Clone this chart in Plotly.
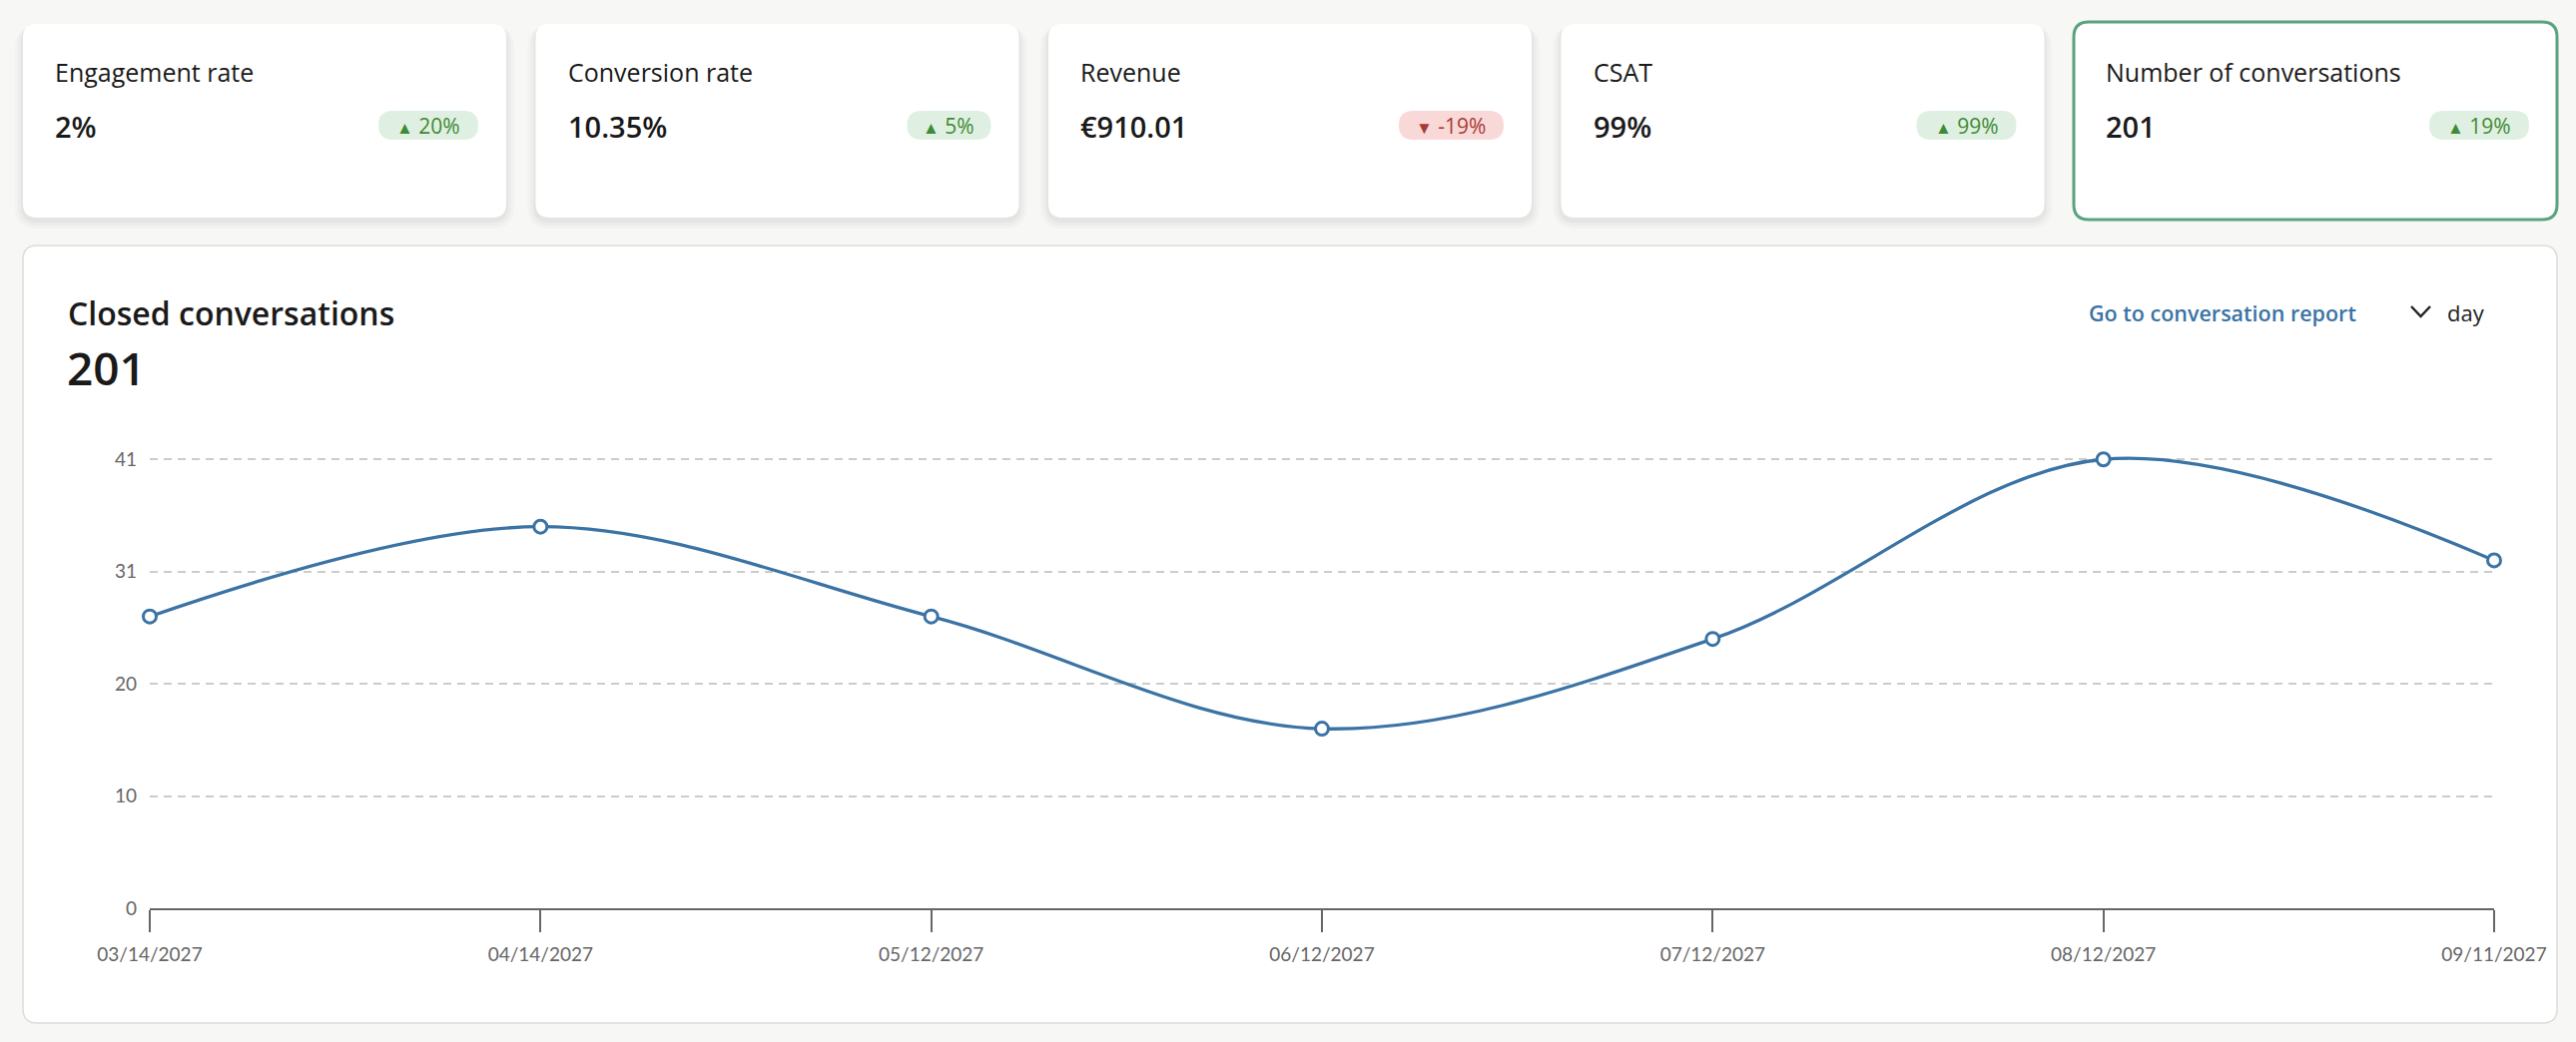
import plotly.graph_objects as go
import numpy as np

# data
dates = ["03/14/2027", "04/14/2027", "05/12/2027", "06/12/2027",
         "07/12/2027", "08/12/2027", "09/11/2027"]
closed_conversations = [27, 35, 27, 17, 25, 41, 32]
y_tick_labels = ["0", "10", "20", "31", "41"]
closed_total = "201"

kpi_names = ["Engagement rate", "Conversion rate", "Revenue", "CSAT",
             "Number of conversations"]
kpi_values = ["2%", "10.35%", "€910.01", "99%", "201"]
kpi_deltas = ["20%", "5%", "-19%", "99%", "19%"]

# page geometry (pixels)
W, H = 2580, 1044
PLOT_L, PLOT_R, PLOT_T, PLOT_B = 150, 2498, 449, 910

BG = "#f7f7f5"
BLUE = "#3b73a5"
GREEN_BORDER = "#5aa37f"


def px(x):
    return (x - PLOT_L) / (PLOT_R - PLOT_L)


def py(y):
    return (PLOT_B - y) / (PLOT_B - PLOT_T)


def rounded_rect(x0, y0, x1, y1, r):
    def p(x, y):
        return f"{px(x):.6f},{py(y):.6f}"
    return (f"M {p(x0 + r, y0)} L {p(x1 - r, y0)} Q {p(x1, y0)} {p(x1, y0 + r)} "
            f"L {p(x1, y1 - r)} Q {p(x1, y1)} {p(x1 - r, y1)} "
            f"L {p(x0 + r, y1)} Q {p(x0, y1)} {p(x0, y1 - r)} "
            f"L {p(x0, y0 + r)} Q {p(x0, y0)} {p(x0 + r, y0)} Z")


def box(x0, y0, x1, y1, r, fill, line_color="rgba(0,0,0,0)", line_width=0):
    return dict(type="path", xref="paper", yref="paper", layer="below",
                path=rounded_rect(x0, y0, x1, y1, r), fillcolor=fill,
                line=dict(color=line_color, width=line_width))


def label(x, y, text, size, color="#1a1a1a", weight=400, xanchor="left",
          family="Open Sans"):
    return dict(xref="paper", yref="paper", x=px(x), y=py(y), text=text,
                showarrow=False, xanchor=xanchor, yanchor="middle",
                font=dict(family=family, size=size, color=color, weight=weight))


shapes = []
annotations = []

# KPI cards
card_w, card_step, card_x0 = 484, 513.5, 23
card_top, card_bot = 24, 218
for i, (name, value, delta) in enumerate(zip(kpi_names, kpi_values, kpi_deltas)):
    x0 = card_x0 + i * card_step
    x1 = x0 + card_w
    selected = i == len(kpi_names) - 1
    if not selected:
        for k, a in enumerate([0.03, 0.025, 0.02]):
            g = 2 + k * 3
            shapes.append(box(x0 - g, card_top + 2, x1 + g, card_bot + 3 + g, 14 + g,
                              f"rgba(0,0,0,{a})"))
        shapes.append(box(x0, card_top, x1, card_bot, 14, "white"))
    else:
        shapes.append(box(x0, card_top - 2, x1, card_bot + 2, 15, "white",
                          GREEN_BORDER, 3))

    annotations.append(label(x0 + 30, 72, name, 25))
    annotations.append(label(x0 + 30, 126, value, 29, weight=600))

    negative = delta.startswith("-")
    pill_w = 52 + 16 * len(delta) - (11 if negative else 0)
    pill_r = x1 - 28
    pill_fill = "#f8d9d8" if negative else "#dff0e2"
    pill_text = "#a83a36" if negative else "#3f8a34"
    arrow = "▼" if negative else "▲"
    shapes.append(box(pill_r - pill_w, 111, pill_r, 140, 14.5, pill_fill))
    annotations.append(label(pill_r - pill_w / 2, 126,
                             f"<span style='font-size:17px'>{arrow}</span> {delta}",
                             21, color=pill_text, xanchor="center"))

# chart card
shapes.append(box(23, 246, 2561, 1025, 14, "white", "#dcdcd8", 1.5))
annotations.append(label(66, 313, "Closed conversations", 32, weight=600))
annotations.append(label(65, 368, closed_total, 46, weight=600))
annotations.append(label(2362, 313, "Go to conversation report", 21.5, color=BLUE,
                         weight=600, xanchor="right"))
annotations.append(label(2449, 313, "day", 22, color="#222222"))
shapes.append(dict(type="path", xref="paper", yref="paper",
                   path=f"M {px(2415)},{py(307)} L {px(2424.5)},{py(317)} L {px(2434)},{py(307)}",
                   line=dict(color="#222222", width=2.5)))

fig = go.Figure()
fig.add_trace(go.Scatter(
    x=dates, y=closed_conversations, mode="lines+markers",
    line=dict(color=BLUE, width=3.3, shape="spline", smoothing=1),
    marker=dict(size=13, color="white", line=dict(color=BLUE, width=3)),
    cliponaxis=False, hoverinfo="x+y", showlegend=False))

y_lo, y_hi = 1, 41
fig.update_layout(
    width=W, height=H, autosize=False,
    margin=dict(l=PLOT_L, r=W - PLOT_R, t=PLOT_T, b=H - PLOT_B, pad=0),
    paper_bgcolor=BG, plot_bgcolor="rgba(0,0,0,0)",
    shapes=shapes, annotations=annotations,
    xaxis=dict(type="category", categoryorder="array", categoryarray=dates,
               range=[0, len(dates) - 1], showgrid=False, zeroline=False,
               showline=True, linecolor="#666666", linewidth=2,
               ticks="outside", ticklen=22, tickwidth=1.5, tickcolor="#666666",
               ticklabelstandoff=6,
               tickfont=dict(family="Lato", size=19, color="#666666"),
               fixedrange=True),
    yaxis=dict(range=[y_lo, 42], tickmode="array",
               tickvals=list(np.linspace(y_lo, y_hi, len(y_tick_labels))),
               ticktext=y_tick_labels, showgrid=True, gridcolor="#cccccc",
               griddash="8px,6px", gridwidth=1.5, zeroline=False, showline=False,
               ticks="", ticklabelstandoff=12,
               tickfont=dict(family="Lato", size=19, color="#666666"),
               fixedrange=True),
)

fig.write_html("out.html", config={"displayModeBar": False},
               post_script="document.body.style.margin = '0';")
